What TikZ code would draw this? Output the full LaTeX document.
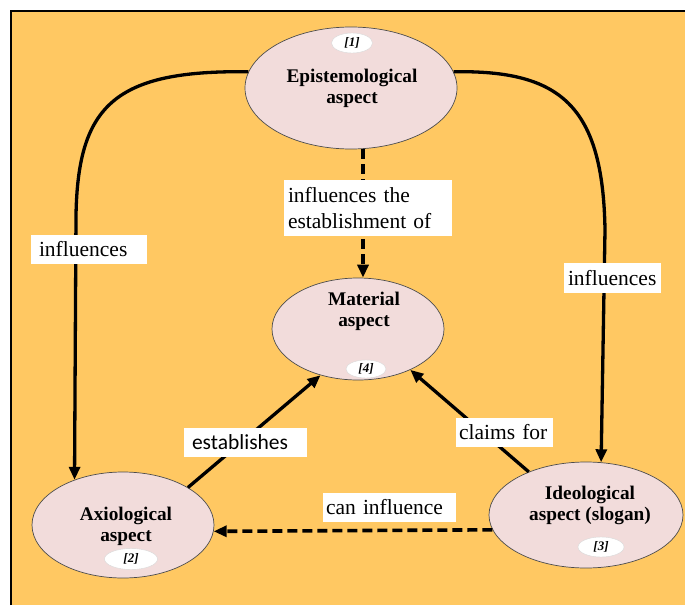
\documentclass[tikz,border=0pt]{standalone}
\usepackage{fontspec}
\setmainfont{Liberation Serif}
\newfontfamily\timesf{Liberation Serif}
\newfontfamily\carlito{Carlito}
\usetikzlibrary{shapes.geometric,arrows.meta,calc}
\definecolor{bgorange}{RGB}{255,200,98}
\definecolor{aspectpink}{RGB}{242,220,219}
\begin{document}
\begin{tikzpicture}[x=1pt,y=-1pt,
  aspect/.style={ellipse, draw=black!70, line width=0.7pt, fill=aspectpink, inner sep=0pt},
  title/.style={font=\timesf\fontsize{19.3}{21}\selectfont\bfseries, align=center, inner sep=0pt},
  tag/.style={ellipse, fill=white, draw=black!15, line width=0.4pt, inner sep=0pt, font=\timesf\fontsize{13}{14}\selectfont\bfseries\itshape},
  lbl/.style={fill=white, inner sep=0pt, align=left, font=\timesf\fontsize{21.5}{26}\selectfont},
  link/.style={line width=3.3pt, -{Triangle[length=13pt,width=11pt]}},
  dlink/.style={link, line width=3.6pt, dash pattern=on 10pt off 5pt},
]
\useasboundingbox (0,0) rectangle (685,605);

% backdrop with its frame on top and left
\fill[bgorange] (11,11) rectangle (685,605);
\draw[line width=2.5pt] (11,605) -- (11,11) -- (685,11);

% the four aspects
\node[aspect, minimum width=212, minimum height=122] (epi)  at (351,88)  {};
\node[aspect, minimum width=172, minimum height=102] (mat)  at (358,329) {};
\node[aspect, minimum width=182, minimum height=106] (axi)  at (123,525) {};
\node[aspect, minimum width=194, minimum height=106] (ideo) at (586,515) {};

\node[title] (epiT)  at (352,88.5) {Epistemological\\aspect};
\node[title] (matT)  at (364,311)  {Material\\aspect};
\node[title] (axiT)  at (126,526)  {Axiological\\aspect};
\node[title] (ideoT) at (590,505)  {Ideological\\aspect (slogan)};

\node[tag, minimum width=41, minimum height=20] (tag1) at (352,43)  {[1]};
\node[tag, minimum width=53, minimum height=21] (tag2) at (131,559) {[2]};
\node[tag, minimum width=46, minimum height=20] (tag3) at (601,547) {[3]};
\node[tag, minimum width=40, minimum height=18] (tag4) at (366,369) {[4]};

% connectors
\draw[link] (epi.171) .. controls (115,70) and (78,105) .. (76,215) -- (axi.137);
\draw[link] (epi.9) .. controls (560,70) and (603,105) .. (605,230) -- (ideo.74);
\draw[dlink] ($(epi.south)+(12,0)$) -- ($(mat.north)+(5,0)$);
\draw[link] (axi.30) -- (mat.231);
\draw[link] (ideo.143) -- (mat.322);
\draw[dlink] (ideo.189) -- (axi.356);

% connector labels
\node[lbl, minimum width=116, minimum height=29, text width=100] (l1) at (89,249.5) {influences};
\node[lbl, minimum width=97, minimum height=30, text width=89] (l2) at (612.5,278) {influences};
\node[lbl, minimum width=168, minimum height=56, text width=160] (l3) at (368,208) {influences the\\establishment of};
\node[lbl, minimum width=123, minimum height=29, text width=107, font=\carlito\fontsize{21.5}{26}\selectfont] (l4) at (245.5,442.5) {establishes};
\node[lbl, minimum width=97, minimum height=29, text width=91] (l5) at (504.5,432.5) {claims for};
\node[lbl, minimum width=133, minimum height=29, text width=127] (l6) at (389.5,507.5) {can influence};
\end{tikzpicture}
\end{document}
